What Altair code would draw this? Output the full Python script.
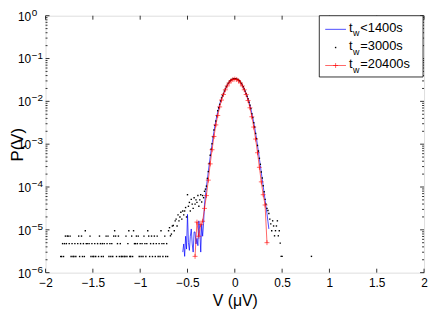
import altair as alt
import pandas as pd

FONT = "Liberation Sans"
W, H = 383, 260

# ---- axis ticks / labels ----
x_tick_values = [-2, -1.5, -1, -0.5, 0, 0.5, 1, 1.5, 2]
y_decades = [-6, -5, -4, -3, -2, -1, 0]
y_minor_mult = [2, 3, 4, 5, 6, 7, 8, 9]

# ---- series (log10 of P(V)) ----
blue_V_start, blue_step = -0.55, 0.01
blue_log10P = [
    -5.52, -5.33, -5.62, -5.15, -5.45, -4.64, -5.30, -5.48, -5.15, -4.98,
    -5.33, -5.52, -5.05, -5.05, -5.33, -5.20, -5.37, -4.79, -5.00, -5.52,
    -4.87, -5.15, -4.85,
    -4.40, -4.20, -4.00, -3.82, -3.64, -3.47, -3.30, -3.14, -2.99, -2.84,
    -2.70, -2.57, -2.45, -2.34, -2.24, -2.15, -2.07, -1.99, -1.93, -1.87,
    -1.83, -1.77, -1.72, -1.67, -1.63, -1.59, -1.56, -1.53, -1.51, -1.49,
    -1.48, -1.475, -1.47, -1.475, -1.48, -1.49, -1.51, -1.53, -1.56, -1.59,
    -1.63, -1.67, -1.72, -1.77, -1.83,
    -1.88, -1.94, -2.01, -2.09, -2.18, -2.28, -2.38, -2.49, -2.61, -2.74,
    -2.88, -3.03, -3.18, -3.34, -3.50, -3.66, -3.82, -3.98, -4.14, -4.30,
    -4.46, -4.62, -4.80, -4.98,
]

red_V_start, red_step = -0.42, 0.02
red_log10P = [
    -5.62, -4.82, -5.15, -4.88, -4.80, -4.50, -4.20, -3.84, -3.46, -3.13,
    -2.82, -2.55, -2.33, -2.13, -1.97, -1.84, -1.73, -1.64, -1.57, -1.52,
    -1.49, -1.48, -1.49, -1.52, -1.57, -1.64, -1.73, -1.84, -1.98, -2.15,
    -2.36, -2.60, -2.88, -3.20, -3.54, -3.88, -4.18, -4.42, -5.30,
]

# black tail: histogram counts per 0.01 bin, one count = 2.38e-6
black_tail_V_start, black_step = -1.84, 0.01
black_count_P = 2.38e-6
black_tail_counts = [
    1, 1, 2, 1, 2, 3, 2, 3, 3, 2, 3, 1, 2, 1, 1, 2, 1, 0, 2, 3,
    1, 2, 3, 1, 2, 1, 4, 2, 2, 0, 2, 3, 1, 2, 1, 1, 2, 1, 0, 2,
    1, 3, 2, 1, 2, 1, 2, 0, 3, 2, 3, 1, 2, 1, 2, 1, 3, 4, 3, 1,
    2, 3, 1, 2, 1, 1, 0, 1, 1, 3, 1, 2, 4, 1, 1, 3, 1, 4, 2, 2,
    3, 2, 3, 1, 2, 1, 2, 1, 3, 2, 1, 2, 4, 3, 1, 2, 3, 1, 2, 3,
    1, 2, 3, 1, 2, 1, 4, 2, 1, 2, 3, 1, 2, 1, 4,
]
black_V_start = -0.69
black_log10P = [
    -4.95, -5.14, -5.10, -4.91, -4.90, -5.02, -4.79, -4.75, -4.91, -4.65,
    -4.79, -4.70, -4.59, -4.75, -4.56, -4.65, -4.56, -4.48, -4.70, -4.18,
    -4.45, -4.36, -4.56, -4.29, -4.40, -4.50, -4.25, -4.40, -4.30, -4.36,
    -4.20, -4.45, -4.30, -4.18, -4.35, -4.20, -4.25, -4.10, -4.05, -3.98,
    -3.80, -3.64, -3.45, -3.26, -3.12, -2.99, -2.83, -2.67, -2.56, -2.46,
    -2.34, -2.22, -2.15, -2.07, -1.99, -1.92, -1.87, -1.82,
    -1.76, -1.71, -1.66, -1.62, -1.58, -1.55, -1.52, -1.50, -1.49, -1.48, -1.47,
    -1.47, -1.47, -1.48, -1.49, -1.50, -1.52, -1.55, -1.58, -1.62, -1.66,
    -1.71, -1.76, -1.82,
    -1.88, -1.94, -2.02, -2.09, -2.17, -2.29, -2.38, -2.50, -2.60, -2.75,
    -2.87, -3.03, -3.16, -3.33, -3.47, -3.65, -3.79, -3.97, -4.11, -4.29,
    -4.40, -4.50,
    -4.55, -4.62, -4.75, -4.86, -5.02, -4.79, -4.91, -5.14, -5.02, -4.91,
    -4.79, -5.14, -5.02, -5.31, -5.62, -5.62,
]
black_extra_V = [0.81]
black_extra_log10P = [-5.62]

legend_labels = ["<1400s", "=3000s", "=20400s"]

# ---- tables ----
blue = pd.DataFrame({
    "V": [round(blue_V_start + blue_step * i, 3) for i in range(len(blue_log10P))],
    "P": [10 ** v for v in blue_log10P]})
red = pd.DataFrame({
    "V": [round(red_V_start + red_step * i, 3) for i in range(len(red_log10P))],
    "P": [10 ** v for v in red_log10P]})
bV, bP = [], []
for i, c in enumerate(black_tail_counts):
    if c > 0:
        bV.append(round(black_tail_V_start + black_step * i, 3))
        bP.append(c * black_count_P)
for i, v in enumerate(black_log10P):
    bV.append(round(black_V_start + black_step * i, 3))
    bP.append(10 ** v)
for v, l in zip(black_extra_V, black_extra_log10P):
    bV.append(v)
    bP.append(10 ** l)
black = pd.DataFrame({"V": bV, "P": bP})

xscale = alt.Scale(domain=[-2, 2], nice=False, zero=False)
yscale = alt.Scale(type="log", domain=[1e-6, 1], nice=False)

x_axis = alt.Axis(values=x_tick_values, format="~f", labelFont=FONT, labelFontSize=12,
                  labelColor="black", ticks=False, domain=False, grid=False,
                  labelPadding=5, labelFlush=False, title="V (μV)", titleFont=FONT,
                  titleFontSize=16, titleFontWeight="normal", titleColor="black",
                  titleY=28, titleBaseline="middle")
y_axis = alt.Axis(labels=False, ticks=False, domain=False, grid=False, title="P(V)",
                  titleFont=FONT, titleFontSize=17, titleFontWeight="normal",
                  titleColor="black", titleX=-19, titleY=130, titleAngle=270,
                  titleAlign="center", titleBaseline="bottom")


def X():
    return alt.X("V:Q", scale=xscale, axis=x_axis)


def Y():
    return alt.Y("P:Q", scale=yscale, axis=y_axis)


blue_line = alt.Chart(blue).mark_line(color="#0000ff", strokeWidth=0.7).encode(x=X(), y=Y())
black_pts = alt.Chart(black).mark_square(size=2.0, color="black", opacity=1).encode(x=X(), y=Y())
red_line = alt.Chart(red).mark_line(color="#ff0000", strokeWidth=0.6).encode(x=X(), y=Y())
PLUS = "M-1,0L1,0M0,-1L0,1"
red_pts = alt.Chart(red).mark_point(shape=PLUS, size=25, filled=False, color="#ff0000",
                                    strokeWidth=0.6, opacity=1).encode(x=X(), y=Y())

# ---- inward ticks ----
xt = pd.DataFrame({"V": x_tick_values})
yt = pd.DataFrame({"P": [10.0 ** d for d in y_decades]})
ym = pd.DataFrame({"P": [m * 10.0 ** d for d in y_decades[:-1] for m in y_minor_mult]})
tk = dict(color="black", strokeWidth=0.8)
ticks = [
    alt.Chart(xt).mark_rule(**tk).encode(x=X(), y=alt.value(H), y2=alt.value(H - 4)),
    alt.Chart(xt).mark_rule(**tk).encode(x=X(), y=alt.value(0), y2=alt.value(4)),
    alt.Chart(yt).mark_rule(**tk).encode(y=Y(), x=alt.value(0), x2=alt.value(4)),
    alt.Chart(yt).mark_rule(**tk).encode(y=Y(), x=alt.value(W), x2=alt.value(W - 4)),
    alt.Chart(ym).mark_rule(**tk).encode(y=Y(), x=alt.value(0), x2=alt.value(2)),
    alt.Chart(ym).mark_rule(**tk).encode(y=Y(), x=alt.value(W), x2=alt.value(W - 2)),
]

# ---- y tick labels 10^n ----
ylab = pd.DataFrame({"P": [10.0 ** d for d in y_decades],
                     "sup": [("\u2212" + str(-d)) if d < 0 else "0" for d in y_decades]})
ten = alt.Chart(ylab).mark_text(text="10", align="right", baseline="middle", font=FONT,
                                fontSize=12, dy=1, color="black").encode(
    x=alt.value(-14.5), y=Y())
sup = alt.Chart(ylab).mark_text(align="left", baseline="alphabetic", font=FONT,
                                fontSize=10, color="black").encode(
    x=alt.value(-14), y=Y(), text="sup:N")

# ---- legend ----
one = pd.DataFrame({"k": [0]})
leg = [alt.Chart(one).mark_rect(fill="white", stroke="black", strokeWidth=0.8).encode(
    x=alt.value(277), x2=alt.value(382), y=alt.value(0), y2=alt.value(62))]
base_y = [16.8, 35.2, 53.4]
leg.append(alt.Chart(one).mark_rule(color="#0000ff", strokeWidth=0.7).encode(
    x=alt.value(283), x2=alt.value(304), y=alt.value(base_y[0] - 3)))
leg.append(alt.Chart(one).mark_square(size=2.0, color="black", opacity=1).encode(
    x=alt.value(293.5), y=alt.value(base_y[1] - 3)))
leg.append(alt.Chart(one).mark_rule(color="#ff0000", strokeWidth=0.6).encode(
    x=alt.value(283), x2=alt.value(304), y=alt.value(base_y[2] - 3)))
leg.append(alt.Chart(one).mark_point(shape=PLUS, size=25, filled=False, color="#ff0000",
                                     strokeWidth=0.6, opacity=1).encode(
    x=alt.value(293.5), y=alt.value(base_y[2] - 3)))
for lab, by in zip(legend_labels, base_y):
    leg.append(alt.Chart(one).mark_text(text="t", align="left", baseline="alphabetic",
                                        font=FONT, fontSize=13, color="black").encode(
        x=alt.value(307), y=alt.value(by)))
    leg.append(alt.Chart(one).mark_text(text="w", align="left", baseline="alphabetic",
                                        font=FONT, fontSize=9, color="black").encode(
        x=alt.value(311.2), y=alt.value(by + 4.2)))
    leg.append(alt.Chart(one).mark_text(text=lab, align="left", baseline="alphabetic",
                                        font=FONT, fontSize=13, color="black").encode(
        x=alt.value(318.5), y=alt.value(by)))

chart = alt.layer(blue_line, black_pts, red_line, red_pts, *ticks, ten, sup, *leg).properties(
    width=W, height=H,
    autosize=alt.AutoSizeParams(type="none"),
    padding={"left": 38, "top": 6, "right": 4, "bottom": 36},
).configure_view(stroke="black", strokeWidth=1).configure(background="white")

chart.save("out.html", embed_options={"renderer": "svg", "actions": False})
